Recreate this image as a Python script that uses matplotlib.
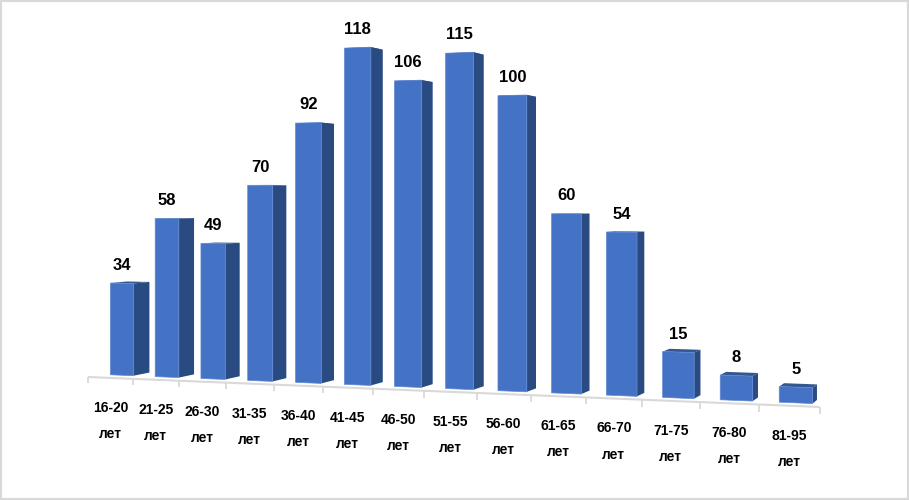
#!/usr/bin/env python3
"""Age distribution bars drawn in the tilted pseudo-3D look of the original."""

import numpy as np
import matplotlib
matplotlib.use('Agg')
import matplotlib.pyplot as plt
from matplotlib.patches import Polygon, Rectangle
from matplotlib.transforms import Transform, IdentityTransform

age_groups = ['16-20', '21-25', '26-30', '31-35', '36-40', '41-45', '46-50',
              '51-55', '56-60', '61-65', '66-70', '71-75', '76-80', '81-95']
counts = [34, 58, 49, 70, 92, 118, 106, 115, 100, 60, 54, 15, 8, 5]
unit = 'лет'

FRONT = '#4472C4'
EDGE = '#5F88D2'
SIDE = '#2A4A82'
TOP = '#34578F'
GREY = '#D9D9D9'

WIDTH, HEIGHT = 909, 500
VANISH = np.array([1060.0, HEIGHT - 192.0])  # where the bar depth lines converge
BAR_DEPTH = 0.014
BACK_DEPTH = 0.031

plt.rcParams['font.family'] = ['Liberation Sans', 'DejaVu Sans']
plt.rcParams['font.weight'] = 'bold'


class TiltedFloor(Transform):
    """Map (category position, value) onto the slanted chart plane, in pixels."""
    input_dims = 2
    output_dims = 2

    def __init__(self, recede=0.0):
        super().__init__()
        self.recede = recede

    def transform_non_affine(self, values):
        values = np.asarray(values, dtype=float)
        u, v = values[:, 0], values[:, 1]
        w = 1 - 0.0106 * u
        x = 88 + 44.5 * u / w
        base = 377 + (407 - 377) / (820 - 88) * (x - 88)
        y = HEIGHT - (base - 2.73 * v / w)
        pts = np.column_stack((x, y))
        return pts + self.recede * (VANISH - pts)


fig = plt.figure(figsize=(WIDTH / 100, HEIGHT / 100), dpi=100, facecolor='white')
ax = fig.add_axes([0, 0, 1, 1])
ax.set_xlim(0, len(counts))
ax.set_ylim(0, 130)
ax.axis('off')

axis_plane = TiltedFloor(0.0)
bar_plane = TiltedFloor(BAR_DEPTH)
back_plane = TiltedFloor(BACK_DEPTH)

slots = np.arange(len(counts))
positions = slots + 0.46 + 0.007 * slots  # bars drift right of their tick cells
half = 0.26 + 0.0015 * slots

# top and side faces go first so the front face covers their inner edges
for pos, hw, val in zip(positions, half, counts):
    left, right = pos - hw, pos + hw
    top = [bar_plane.transform([(left, val), (right, val)]),
           back_plane.transform([(right, val), (left, val)])]
    ax.add_patch(Polygon(np.vstack(top), closed=True, facecolor=TOP, edgecolor='none',
                         transform=IdentityTransform(), clip_on=False))
    side = [bar_plane.transform([(right, 0), (right, val)]),
            back_plane.transform([(right, val), (right, 0)])]
    ax.add_patch(Polygon(np.vstack(side), closed=True, facecolor=SIDE, edgecolor='none',
                         transform=IdentityTransform(), clip_on=False))

ax.bar(positions, counts, width=half * 2, color=FRONT, edgecolor=EDGE, linewidth=0.5,
       transform=bar_plane, clip_on=False)

# slanted category axis with its ticks
ax.plot([0, len(counts)], [0, 0], color=GREY, linewidth=1.5, transform=axis_plane,
        clip_on=False, solid_capstyle='butt')
for tick in range(len(counts) + 1):
    ax.plot([tick, tick], [0, -2.3], color=GREY, linewidth=1.3, transform=axis_plane,
            clip_on=False, solid_capstyle='butt')

for pos, val in zip(positions, counts):
    ax.annotate(str(val), xy=(pos, val), xycoords=bar_plane, xytext=(0, 18),
                textcoords='offset pixels', ha='center', va='center',
                fontsize=12, color='black', annotation_clip=False)

for pos, group in zip(slots + 0.5, age_groups):
    ax.annotate(f'{group}\n{unit}', xy=(pos, 0), xycoords=axis_plane, xytext=(0, -43),
                textcoords='offset pixels', ha='center', va='center',
                fontsize=10, color='black', linespacing=2.1, annotation_clip=False)

# grey frame round the picture
fig.add_artist(Rectangle((0, 0), 1, 1, transform=fig.transFigure, fill=False,
                         edgecolor=GREY, linewidth=3))

fig.savefig('out.png', dpi=100)
